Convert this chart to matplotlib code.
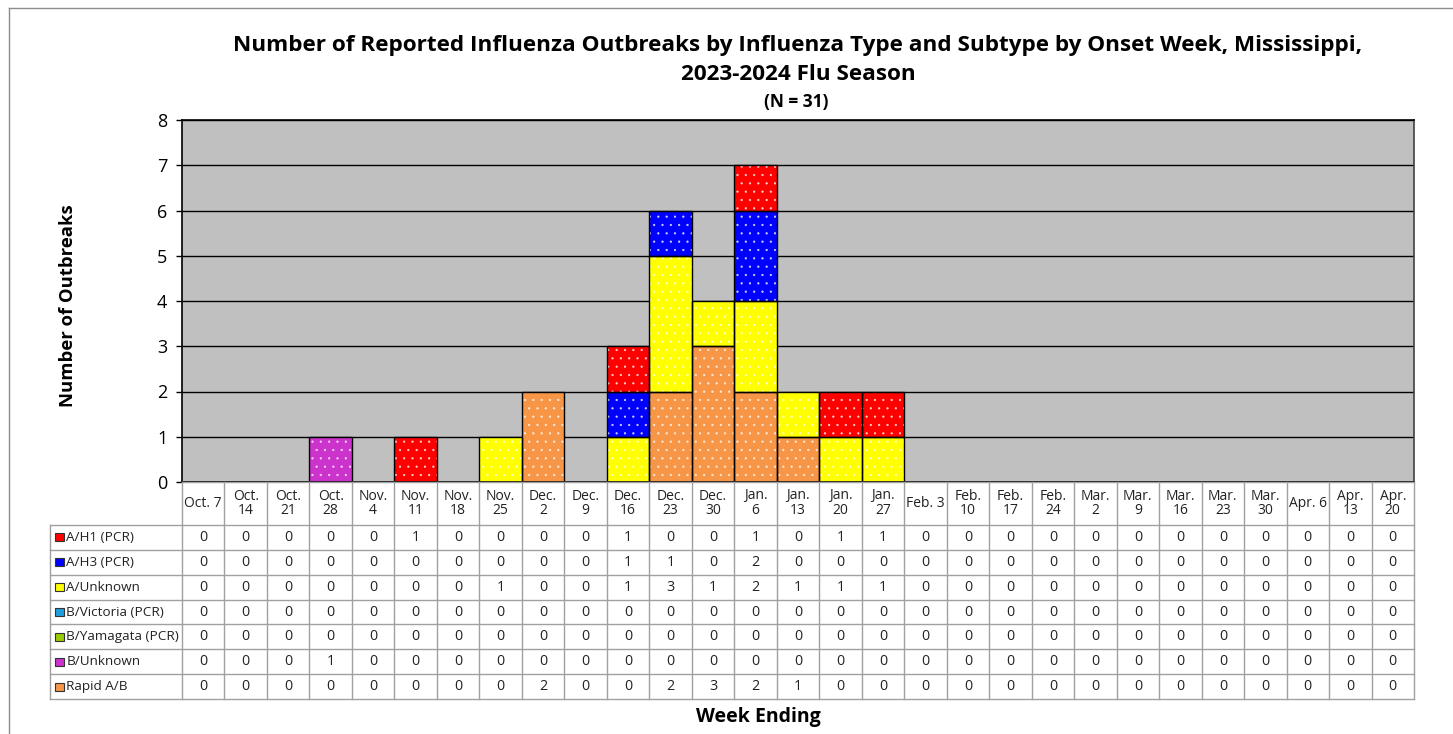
import numpy as np
import matplotlib.pyplot as plt
from matplotlib.patches import Rectangle

plt.rcParams['font.family'] = ['Open Sans', 'DejaVu Sans']
plt.rcParams['hatch.linewidth'] = 0.4

# week ending labels (table header)
weeks = ["Oct. 7", "Oct.\n14", "Oct.\n21", "Oct.\n28", "Nov.\n4", "Nov.\n11",
         "Nov.\n18", "Nov.\n25", "Dec.\n2", "Dec.\n9", "Dec.\n16", "Dec.\n23",
         "Dec.\n30", "Jan.\n6", "Jan.\n13", "Jan.\n20", "Jan.\n27", "Feb. 3",
         "Feb.\n10", "Feb.\n17", "Feb.\n24", "Mar.\n2", "Mar.\n9", "Mar.\n16",
         "Mar.\n23", "Mar.\n30", "Apr. 6", "Apr.\n13", "Apr.\n20"]

# outbreak counts per series
a_h1 =       [0, 0, 0, 0, 0, 1, 0, 0, 0, 0, 1, 0, 0, 1, 0, 1, 1, 0, 0, 0, 0, 0, 0, 0, 0, 0, 0, 0, 0]
a_h3 =       [0, 0, 0, 0, 0, 0, 0, 0, 0, 0, 1, 1, 0, 2, 0, 0, 0, 0, 0, 0, 0, 0, 0, 0, 0, 0, 0, 0, 0]
a_unknown =  [0, 0, 0, 0, 0, 0, 0, 1, 0, 0, 1, 3, 1, 2, 1, 1, 1, 0, 0, 0, 0, 0, 0, 0, 0, 0, 0, 0, 0]
b_victoria = [0] * 29
b_yamagata = [0] * 29
b_unknown =  [0, 0, 0, 1, 0, 0, 0, 0, 0, 0, 0, 0, 0, 0, 0, 0, 0, 0, 0, 0, 0, 0, 0, 0, 0, 0, 0, 0, 0]
rapid_ab =   [0, 0, 0, 0, 0, 0, 0, 0, 2, 0, 0, 2, 3, 2, 1, 0, 0, 0, 0, 0, 0, 0, 0, 0, 0, 0, 0, 0, 0]

series_names = ["A/H1 (PCR)", "A/H3 (PCR)", "A/Unknown", "B/Victoria (PCR)",
                "B/Yamagata (PCR)", "B/Unknown", "Rapid A/B"]
series_vals = [a_h1, a_h3, a_unknown, b_victoria, b_yamagata, b_unknown, rapid_ab]
series_colors = ["#FF0000", "#0000FF", "#FFFF00", "#1E9FE0",
                 "#99CC00", "#CC33CC", "#F79646"]

W, H = 1453, 734
fig = plt.figure(figsize=(W / 100, H / 100), dpi=100)


def px_axes(l, t, r, b):
    return fig.add_axes([l / W, 1 - b / H, (r - l) / W, (b - t) / H])


# outer frame (left + top)
fig.add_artist(plt.Line2D([9 / W, 9 / W], [1 - 8 / H, 0], color='#8c8c8c', lw=1))
fig.add_artist(plt.Line2D([9 / W, 1], [1 - 8 / H, 1 - 8 / H], color='#8c8c8c', lw=1))

# ---- chart ----
ax = px_axes(182, 120, 1414, 482)
ax.set_facecolor('#C0C0C0')
x = np.arange(len(weeks))
bottom = np.zeros(len(weeks))
# stacked bottom-up in reverse table order
for name, vals, col in reversed(list(zip(series_names, series_vals, series_colors))):
    v = np.array(vals, dtype=float)
    m = v > 0
    if m.any():
        ax.bar(x[m], v[m], bottom=bottom[m], width=1.0, color=col,
               linewidth=0, zorder=2)
        ax.bar(x[m], v[m], bottom=bottom[m], width=1.0, facecolor='none',
               edgecolor=(1, 1, 1, 0.75), linewidth=0, hatch='..', zorder=3)
        ax.bar(x[m], v[m], bottom=bottom[m], width=1.0, facecolor='none',
               edgecolor='black', linewidth=1.0, zorder=4)
    bottom += v

ax.set_xlim(-0.5, len(weeks) - 0.5)
ax.set_ylim(0, 8)
ax.set_yticks(range(0, 9))
ax.set_xticks([])
ax.yaxis.grid(True, color='black', lw=1.0)
ax.set_axisbelow(True)
ax.tick_params(axis='y', length=4.5, width=1, pad=6, labelsize=13, colors='black')
for s in ['left', 'bottom', 'top']:
    ax.spines[s].set_color('black')
    ax.spines[s].set_linewidth(1.2)
ax.spines['right'].set_color('#404040')
ax.spines['right'].set_linewidth(1.2)

# ---- data table ----
n = len(weeks)
colw = (1414 - 182) / n
label_w = (182 - 50) / colw
hdr_h = 43
row_h = (699 - 482 - hdr_h) / len(series_names)
tax = px_axes(50, 482, 1414, 699)
tax.set_xlim(-0.5 - label_w, n - 0.5)
tax.set_ylim(699 - 482, 0)
tax.axis('off')
gc = '#a0a0a0'
# vertical lines
for i in range(n + 1):
    tax.plot([i - 0.5, i - 0.5], [0, 699 - 482], color=gc, lw=1, clip_on=False)
tax.plot([-0.5 - label_w] * 2, [hdr_h, 699 - 482], color=gc, lw=1, clip_on=False)
# horizontal lines
tax.plot([-0.5, n - 0.5], [0, 0], color=gc, lw=1, clip_on=False)
for r in range(len(series_names) + 1):
    yy = hdr_h + r * row_h
    tax.plot([-0.5 - label_w, n - 0.5], [yy, yy], color=gc, lw=1, clip_on=False)

for i, w in enumerate(weeks):
    tax.text(i, hdr_h / 2, w, ha='center', va='center', fontsize=10,
             linespacing=1.0, color='#222222')

for r, (name, vals, col) in enumerate(zip(series_names, series_vals, series_colors)):
    yc = hdr_h + (r + 0.5) * row_h
    tax.add_patch(Rectangle((-0.5 - label_w + 0.12, yc - 4), 0.2, 8,
                            facecolor=col, edgecolor='#333333', lw=0.8,
                            clip_on=False))
    tax.text(-0.5 - label_w + 0.38, yc, name, ha='left', va='center',
             fontsize=9.7, color='#222222')
    for i, v in enumerate(vals):
        tax.text(i, yc, str(v), ha='center', va='center', fontsize=10.3,
                 color='#222222')

# ---- titles ----
fig.text(798 / W, 1 - 45 / H,
         "Number of Reported Influenza Outbreaks by Influenza Type and Subtype by Onset Week, Mississippi,",
         ha='center', va='center', fontsize=16.2, fontweight='bold')
fig.text(798 / W, 1 - 74 / H, "2023-2024 Flu Season",
         ha='center', va='center', fontsize=16.2, fontweight='bold')
fig.text(796 / W, 1 - 102 / H, "(N = 31)",
         ha='center', va='center', fontsize=12.5, fontweight='bold')
fig.text(68 / W, 1 - 306 / H, "Number of Outbreaks", rotation=90,
         ha='center', va='center', fontsize=13.3, fontweight='bold')
fig.text(758 / W, 1 - 717 / H, "Week Ending",
         ha='center', va='center', fontsize=14, fontweight='bold')

fig.savefig('out.png', dpi=100)
